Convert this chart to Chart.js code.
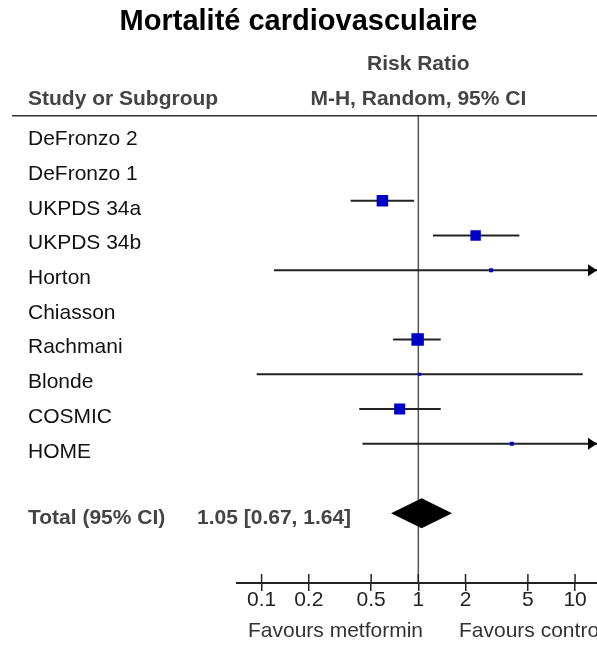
<!DOCTYPE html>
<html>
<head>
<meta charset="utf-8">
<title>Mortalité cardiovasculaire</title>
<script src="https://cdn.jsdelivr.net/npm/chart.js@4.4.1/dist/chart.umd.min.js"></script>
<style>
  html, body { margin: 0; padding: 0; background: #fff; }
  #wrap { width: 597px; height: 648px; }
</style>
</head>
<body>
<div id="wrap"><canvas id="forest" width="597" height="648"></canvas></div>
<script>
// --- values ---
const studies   = ["DeFronzo 2", "DeFronzo 1", "UKPDS 34a", "UKPDS 34b", "Horton",
                   "Chiasson", "Rachmani", "Blonde", "COSMIC", "HOME"];
const riskRatio = [null, null, 0.59, 2.32, 2.91, null, 0.99, 1.02, 0.76, 3.95];
const ciLower   = [null, null, 0.37, 1.24, 0.12, null, 0.69, 0.093, 0.42, 0.44];
const ciUpper   = [null, null, 0.94, 4.41, 71, null, 1.39, 11.2, 1.39, 35];
const weights   = [null, null, 23, 19, 2.8, null, 27, 1.6, 21, 2.8]; // % weight -> square size

const totalLabel = "Total (95% CI)";
const totalRR    = 1.05;
const totalLower = 0.67;
const totalUpper = 1.64;

const tickValues = [0.1, 0.2, 0.5, 1, 2, 5, 10];
const tickLabels = ["0.1", "0.2", "0.5", "1", "2", "5", "10"];

const FONT = "'Liberation Sans', Arial, sans-serif";
const TOTAL_ROW = studies.length + 1;

// square side grows with sqrt(weight); Chart.js 'rect' side = radius * sqrt(2)
function squareRadius(w) {
  return (2.4 * Math.sqrt(w)) / Math.SQRT2;
}

// --- datasets ---
const pointData = [];
const pointRadii = [];
const ciSets = [];
studies.forEach((name, i) => {
  if (riskRatio[i] == null) return;
  pointData.push({ x: riskRatio[i], y: i });
  pointRadii.push(squareRadius(weights[i]));
  ciSets.push({
    type: "line",
    label: name + " CI",
    data: [{ x: ciLower[i], y: i }, { x: ciUpper[i], y: i }],
    borderColor: "#222",
    borderWidth: 2,
    pointRadius: 0,
    order: 2
  });
});

// --- decorations: header, study column, diamond, arrows, favours labels ---
const forestDecor = {
  id: "forestDecor",
  beforeDatasetsDraw(chart) {
    const { ctx, chartArea, scales: { x } } = chart;
    const x1 = x.getPixelForValue(1);
    ctx.save();
    ctx.strokeStyle = "#555";
    ctx.lineWidth = 1.5;
    ctx.beginPath();
    ctx.moveTo(x1, chartArea.top);
    ctx.lineTo(x1, chartArea.bottom);
    ctx.stroke();
    ctx.restore();
  },
  afterDraw(chart) {
    const { ctx, chartArea, scales: { x, y } } = chart;
    const x1 = x.getPixelForValue(1);
    ctx.save();

    // header rule
    ctx.strokeStyle = "#333";
    ctx.lineWidth = 1.5;
    ctx.beginPath();
    ctx.moveTo(12, chartArea.top);
    ctx.lineTo(chart.width, chartArea.top);
    ctx.stroke();

    // header text
    ctx.fillStyle = "#444";
    ctx.font = "bold 21px " + FONT;
    ctx.textBaseline = "middle";
    ctx.textAlign = "center";
    ctx.fillText("Risk Ratio", x1, 64);
    ctx.fillText("M-H, Random, 95% CI", x1, 99);
    ctx.textAlign = "left";
    ctx.fillText("Study or Subgroup", 28, 99);

    // study names
    ctx.fillStyle = "#111";
    ctx.font = "21px " + FONT;
    studies.forEach((name, i) => {
      ctx.fillText(name, 28, y.getPixelForValue(i) + 8);
    });

    // total row
    const yt = y.getPixelForValue(TOTAL_ROW);
    ctx.fillStyle = "#444";
    ctx.font = "bold 21px " + FONT;
    ctx.fillText(totalLabel, 28, yt + 5);
    ctx.fillText(totalRR.toFixed(2) + " [" + totalLower.toFixed(2) + ", " + totalUpper.toFixed(2) + "]", 197, yt + 5);

    // pooled diamond
    ctx.fillStyle = "#000";
    ctx.beginPath();
    ctx.moveTo(x.getPixelForValue(totalLower), yt);
    ctx.lineTo(x.getPixelForValue(totalRR), yt - 15);
    ctx.lineTo(x.getPixelForValue(totalUpper), yt);
    ctx.lineTo(x.getPixelForValue(totalRR), yt + 15);
    ctx.closePath();
    ctx.fill();

    // arrows for intervals running past the axis
    studies.forEach((name, i) => {
      if (ciUpper[i] == null || ciUpper[i] <= x.max) return;
      const yy = y.getPixelForValue(i);
      ctx.beginPath();
      ctx.moveTo(chartArea.right, yy);
      ctx.lineTo(chartArea.right - 9, yy - 6);
      ctx.lineTo(chartArea.right - 9, yy + 6);
      ctx.closePath();
      ctx.fill();
    });

    // upper half of the axis tick marks
    ctx.strokeStyle = "#222";
    ctx.lineWidth = 1.5;
    tickValues.forEach(v => {
      const px = x.getPixelForValue(v);
      ctx.beginPath();
      ctx.moveTo(px, chartArea.bottom - 9);
      ctx.lineTo(px, chartArea.bottom);
      ctx.stroke();
    });

    // favours labels
    ctx.fillStyle = "#333";
    ctx.font = "21px " + FONT;
    ctx.textAlign = "left";
    ctx.fillText("Favours metformin", 248, 631);
    ctx.fillText("Favours control", 459, 631);

    ctx.restore();
  }
};

new Chart(document.getElementById("forest"), {
  data: {
    datasets: [
      {
        type: "scatter",
        label: "Risk ratio",
        data: pointData,
        pointStyle: "rect",
        pointRadius: pointRadii,
        backgroundColor: "#0000c8",
        borderWidth: 0,
        order: 1
      },
      ...ciSets
    ]
  },
  options: {
    responsive: false,
    animation: false,
    events: [],
    layout: { padding: 0, autoPadding: false },
    plugins: {
      legend: { display: false },
      tooltip: { enabled: false },
      title: {
        display: true,
        text: "Mortalité cardiovasculaire",
        color: "#000",
        font: { family: FONT, size: 29, weight: "bold" },
        padding: { top: 5, bottom: 76 }
      }
    },
    scales: {
      x: {
        type: "logarithmic",
        position: "bottom",
        min: 0.0697,
        max: 13.8,
        afterBuildTicks: axis => { axis.ticks = tickValues.map(v => ({ value: v })); },
        afterFit: axis => {
          axis.height = 65;
          axis.paddingLeft = 0;
          axis.paddingRight = 0;
        },
        grid: { drawOnChartArea: false, drawTicks: true, tickLength: 8, color: "#222", lineWidth: 1.5 },
        border: { display: true, color: "#222", width: 2 },
        ticks: {
          autoSkip: false,
          maxRotation: 0,
          padding: -3,
          color: "#222",
          font: { family: FONT, size: 21 },
          callback: (value, index) => tickLabels[index]
        }
      },
      y: {
        type: "linear",
        reverse: true,
        min: -0.446,
        max: 13.01,
        afterFit: axis => { axis.width = 237; },
        grid: { display: false },
        border: { display: false },
        ticks: { display: false }
      }
    }
  },
  plugins: [forestDecor]
});
</script>
</body>
</html>
